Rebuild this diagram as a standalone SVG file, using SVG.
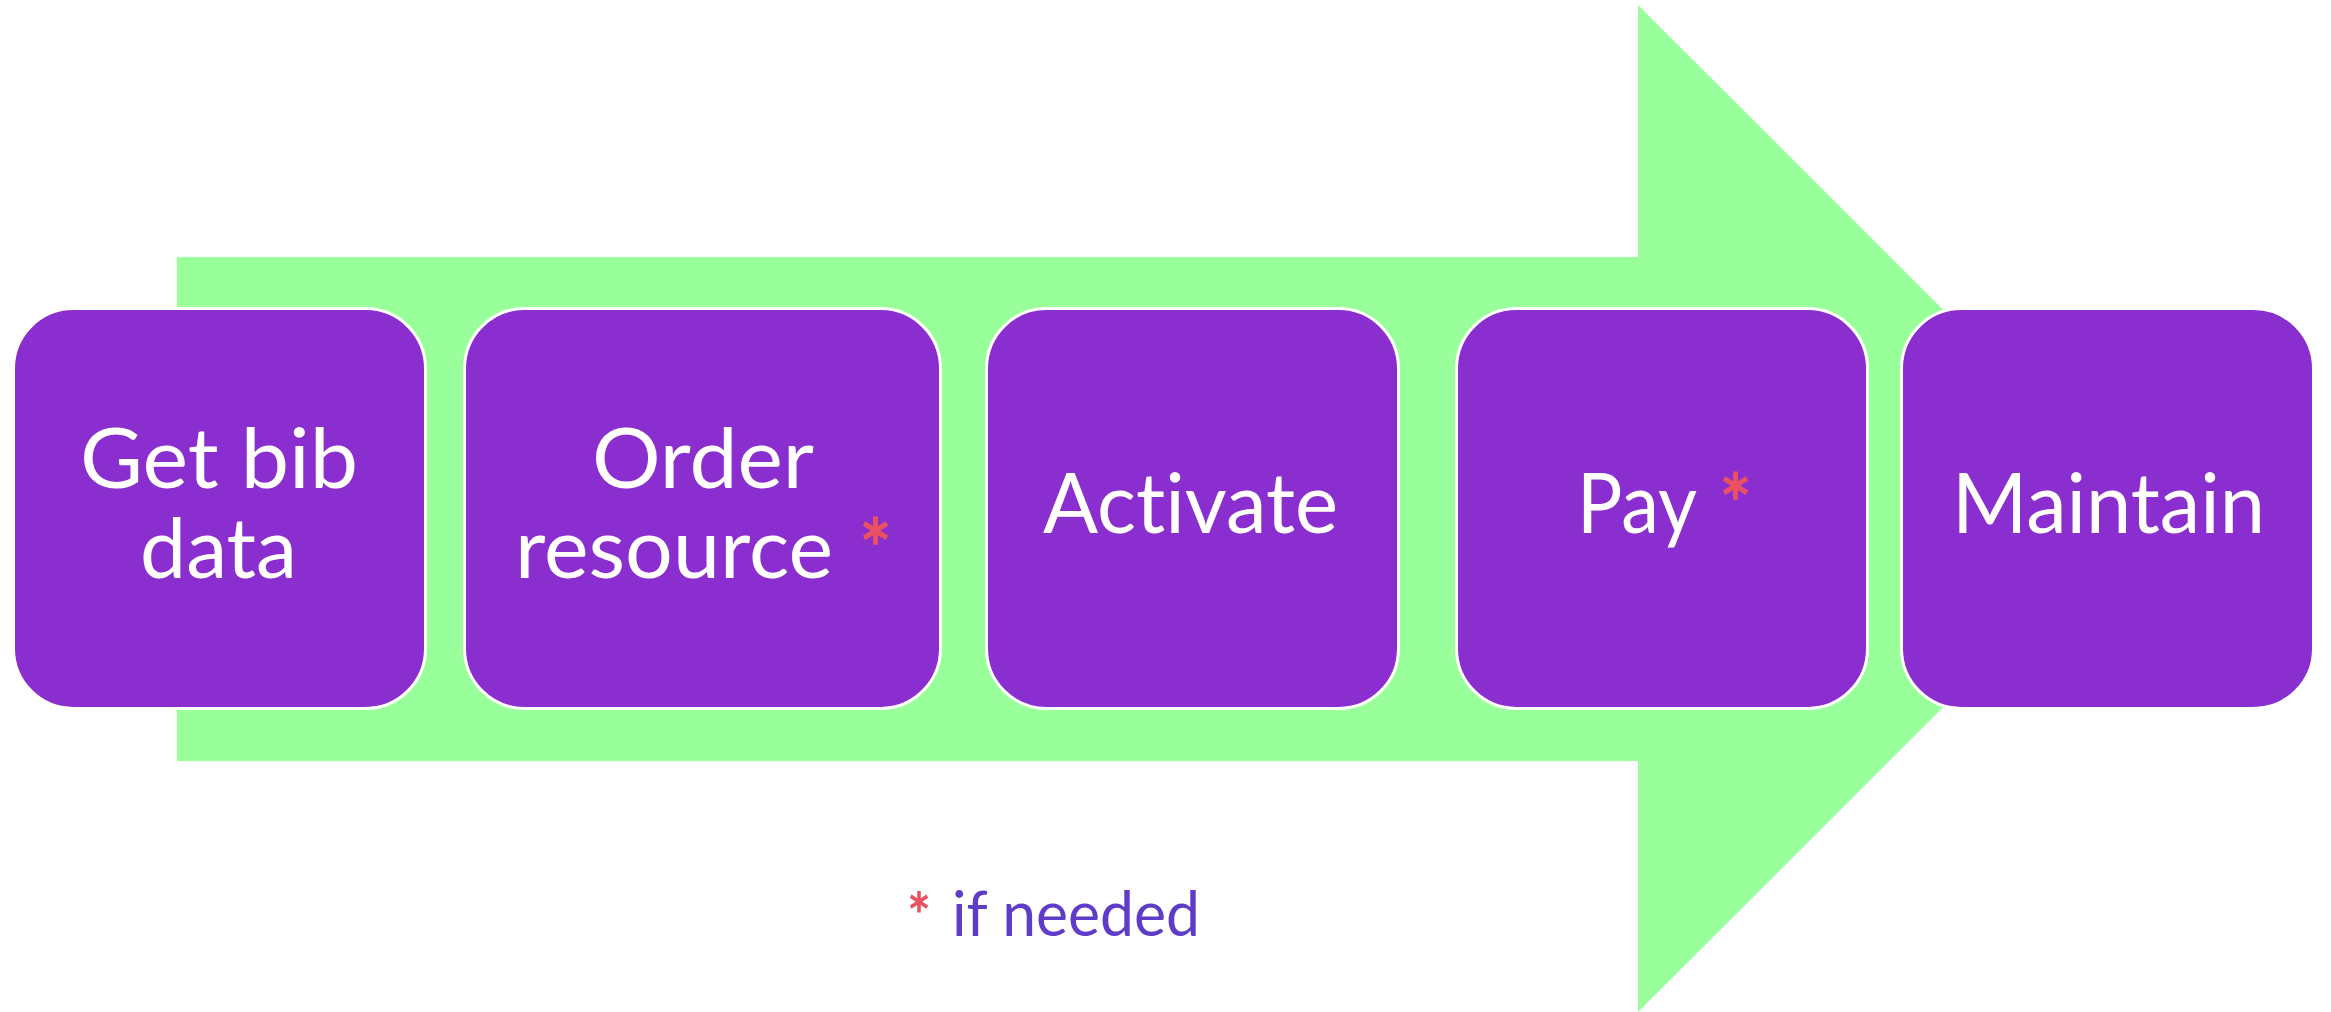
<svg xmlns="http://www.w3.org/2000/svg" width="2331" height="1012" viewBox="0 0 2331 1012">
<style>
text{font-family:Lato,"Open Sans","Liberation Sans",sans-serif;font-variant-ligatures:none;font-feature-settings:"liga" 0,"clig" 0}
.box{fill:#8A2ECF;stroke:#FFFFFF;stroke-width:3}
.lbl{font-size:83px;fill:#FFFFFF}
.ast{font-size:83px;fill:#EB5160;stroke:#EB5160;stroke-width:1.5}
.note{font-size:61px;fill:#5E3CC7}
</style>
<rect x="0" y="0" width="2331" height="1012" fill="#FFFFFF"/>
<g id="arrow">
<polygon points="177,257 1638,257 1638,5 2142,508.5 1638,1012 1638,761 177,761" fill="#99FF9A"/>
</g>
<g id="node-get-bib-data">
<rect class="box" x="13.5" y="308.5" width="412" height="400" rx="60" ry="60"/>
<text class="lbl" x="80" y="488" textLength="278" lengthAdjust="spacingAndGlyphs">Get bib</text>
<text class="lbl" x="140" y="578" textLength="157" lengthAdjust="spacingAndGlyphs">data</text>
</g>
<g id="node-order-resource">
<rect class="box" x="464.5" y="308.5" width="476" height="400" rx="60" ry="60"/>
<text class="lbl" x="592" y="488" textLength="222" lengthAdjust="spacingAndGlyphs">Order</text>
<text class="lbl" x="515" y="578" textLength="318" lengthAdjust="spacingAndGlyphs">resource</text>
<text class="ast" x="859" y="580" textLength="33" lengthAdjust="spacingAndGlyphs">*</text>
</g>
<g id="node-activate">
<rect class="box" x="986.5" y="308.5" width="412" height="400" rx="60" ry="60"/>
<text class="lbl" x="1043" y="533" textLength="295" lengthAdjust="spacingAndGlyphs">Activate</text>
</g>
<g id="node-pay">
<rect class="box" x="1456.5" y="308.5" width="411" height="400" rx="60" ry="60"/>
<text class="lbl" x="1577" y="533" textLength="120" lengthAdjust="spacingAndGlyphs">Pay</text>
<text class="ast" x="1719" y="535" textLength="33" lengthAdjust="spacingAndGlyphs">*</text>
</g>
<g id="node-maintain">
<rect class="box" x="1901.5" y="308.5" width="412" height="400" rx="60" ry="60"/>
<text class="lbl" x="1952" y="533" textLength="313" lengthAdjust="spacingAndGlyphs">Maintain</text>
</g>
<g id="connectors"></g>
<g id="footnote">
<text class="ast" x="907" y="940" style="font-size:64px;stroke-width:1" textLength="24" lengthAdjust="spacingAndGlyphs">*</text>
<text class="note" x="952" y="936" textLength="248" lengthAdjust="spacingAndGlyphs">if needed</text>
</g>
</svg>
